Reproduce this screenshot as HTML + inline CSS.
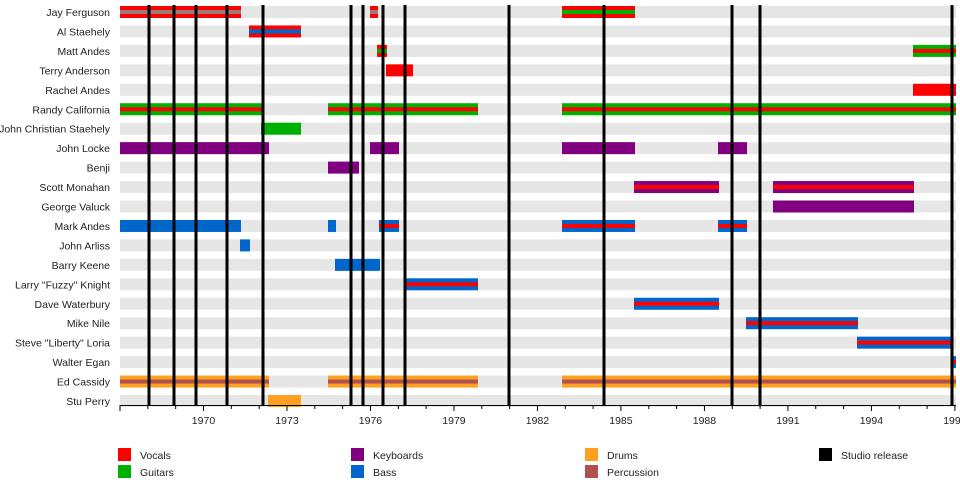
<!DOCTYPE html>
<html><head><meta charset="utf-8"><style>
body{margin:0;background:#fff;}
svg text{font-family:"Liberation Sans",Arial,sans-serif;font-size:10.5px;fill:#222;}
</style></head><body>
<svg width="960" height="480" xmlns="http://www.w3.org/2000/svg">
<g id="bg"></g><g id="bars"></g><g id="lines"></g><g id="axis"></g><g id="leg"></g>
</svg>
<script>
const NS="http://www.w3.org/2000/svg";
function el(g,t,a,txt){const e=document.createElementNS(NS,t);for(const k in a)e.setAttribute(k,a[k]);if(txt!==undefined)e.textContent=txt;document.getElementById(g).appendChild(e);return e;}
const C={V:"#ff0000",G:"#00b000",K:"#800080",B:"#0066cc",D:"#ffa020",P:"#b05050",X:"#a07878"};
const names=["Jay Ferguson","Al Staehely","Matt Andes","Terry Anderson","Rachel Andes","Randy California","John Christian Staehely","John Locke","Benji","Scott Monahan","George Valuck","Mark Andes","John Arliss","Barry Keene","Larry \"Fuzzy\" Knight","Dave Waterbury","Mike Nile","Steve \"Liberty\" Loria","Walter Egan","Ed Cassidy","Stu Perry"];
const bars=[
[[120,241,"V","X"],[370,378,"V","X"],[562,635,"V","G"]],
[[249,301,"V","B"]],
[[377,387,"V","G"],[913,956,"G","V"]],
[[386,413,"V"]],
[[913,956,"V"]],
[[120,262,"G","V"],[328,478,"G","V"],[562,956,"G","V"]],
[[261,301,"G"]],
[[120,269,"K"],[370,399,"K"],[562,635,"K"],[718,747,"K"]],
[[328,359,"K"]],
[[634,719,"K","V"],[773,914,"K","V"]],
[[773,914,"K"]],
[[120,241,"B"],[328,336,"B"],[379,399,"B","V"],[562,635,"B","V"],[718,747,"B","V"]],
[[240,250,"B"]],
[[335,380,"B"]],
[[406,478,"B","V"]],
[[634,719,"B","V"]],
[[746,858,"B","V"]],
[[857,952,"B","V"]],
[[951,956,"B","V"]],
[[120,269,"D","P"],[328,478,"D","P"],[562,956,"D","P"]],
[[268,301,"D"]]];
const y0=12,dy=19.45;
names.forEach((n,i)=>{const cy=y0+i*dy;
el("bg","rect",{x:120,y:cy-6,width:836,height:12,fill:"#e6e6e6"});
el("bg","text",{x:110,y:cy+4,"text-anchor":"end"},n);
bars[i].forEach(b=>{el("bars","rect",{x:b[0],y:cy-6,width:b[1]-b[0],height:12,fill:C[b[2]]});
if(b[3])el("bars","rect",{x:b[0],y:cy-2,width:b[1]-b[0],height:4,fill:C[b[3]]});});});
[149,174,196,227,263,351,363,383,405,509,604,732,760,952].forEach(x=>el("lines","rect",{x:x-1.5,y:5,width:3,height:400,fill:"#000"}));
el("axis","line",{x1:120,y1:405.5,x2:956,y2:405.5,stroke:"#000","stroke-width":1});
for(let yr=1967;yr<=1997;yr++){const x=120+(yr-1967)*27.83;const maj=(yr-1970)%3==0;
el("axis","line",{x1:x,y1:405,x2:x,y2:maj?411:409,stroke:"#000","stroke-width":1});
if(maj&&yr>=1970)el("axis","text",{x:x,y:424,"text-anchor":"middle"},yr);}
const L=[[118,448,"V","Vocals"],[118,465,"G","Guitars"],[351,448,"K","Keyboards"],[351,465,"B","Bass"],[585,448,"D","Drums"],[585,465,"P","Percussion"],[819,448,null,"Studio release"]];
L.forEach(l=>{el("leg","rect",{x:l[0],y:l[1],width:13,height:13,fill:l[2]?C[l[2]]:"#000"});el("leg","text",{x:l[0]+22,y:l[1]+11},l[3]);});
</script>
</body></html>
